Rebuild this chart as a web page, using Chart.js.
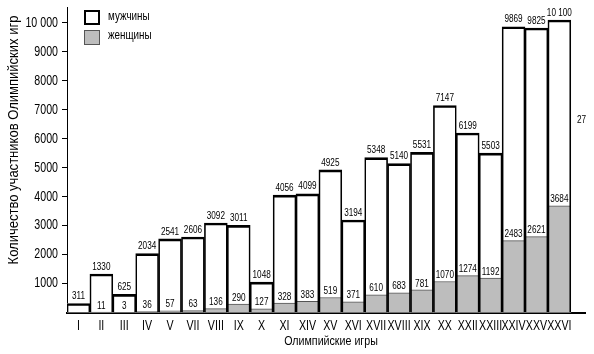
<!DOCTYPE html>
<html>
<head>
<meta charset="utf-8">
<script src="https://cdn.jsdelivr.net/npm/chart.js@4"></script>
<style>
  body { margin: 0; background: #fff; }
</style>
</head>
<body>
<canvas id="myChart" width="594" height="354"></canvas>
<script>
var games = ['I', 'II', 'III', 'IV', 'V', 'VII', 'VIII', 'IX', 'X', 'XI', 'XIV', 'XV', 'XVI', 'XVII', 'XVIII', 'XIX', 'XX', 'XXII', 'XXIII', 'XXIV', 'XXV', 'XXVI'];
var totals = [311, 1330, 625, 2034, 2541, 2606, 3092, 3011, 1048, 4056, 4099, 4925, 3194, 5348, 5140, 5531, 7147, 6199, 5503, 9869, 9825, 10100];
var women = [null, 11, 3, 36, 57, 63, 136, 290, 127, 328, 383, 519, 371, 610, 683, 781, 1070, 1274, 1192, 2483, 2621, 3684];
var yTicks = [1000, 2000, 3000, 4000, 5000, 6000, 7000, 8000, 9000, 10000];

var FAMILY = "'Liberation Sans', Arial, sans-serif";
var GRAY = '#bdbdbd';

// no narrow face installed, so squeeze text horizontally
function text(ctx, s, x, y, size, squeeze, align, base) {
    ctx.save();
    ctx.font = size + 'px ' + FAMILY;
    ctx.textAlign = align || 'center';
    ctx.textBaseline = base || 'middle';
    ctx.translate(x, y);
    ctx.scale(squeeze, 1);
    ctx.fillText(s, 0, 0);
    ctx.restore();
}

function points(arr) {
    return arr.map(function (v, i) { return { x: i, y: v }; });
}

// tick labels, value labels, legend and axis titles
var extras = {
    id: 'extras',
    afterDraw: function (chart) {
        var ctx = chart.ctx;
        var xs = chart.scales.x, ys = chart.scales.y;
        ctx.save();
        ctx.fillStyle = '#000';

        yTicks.forEach(function (v) {
            text(ctx, v === 10000 ? '10 000' : String(v), 58, ys.getPixelForValue(v), 14, 0.76, 'right');
        });
        games.forEach(function (g, i) {
            text(ctx, g, xs.getPixelForValue(i), 326, 14, 0.76);
        });

        var tot = chart.getDatasetMeta(0).data;
        var wom = chart.getDatasetMeta(1).data;
        totals.forEach(function (v, i) {
            text(ctx, v === 10100 ? '10 100' : String(v), tot[i].x, tot[i].y - 2, 10.5, 0.78, 'center', 'bottom');
        });
        women.forEach(function (v, i) {
            if (v === null) return;
            text(ctx, String(v), wom[i].x, wom[i].y - 1, 10.5, 0.78, 'center', 'bottom');
        });
        text(ctx, '27', 577, 120, 10.5, 0.78, 'left');

        // legend
        ctx.lineWidth = 2;
        ctx.strokeStyle = '#000';
        ctx.fillStyle = '#fff';
        ctx.fillRect(85, 11, 14, 13);
        ctx.strokeRect(85, 11, 14, 13);
        ctx.fillStyle = GRAY;
        ctx.fillRect(84, 30, 16, 15);
        ctx.lineWidth = 1;
        ctx.strokeStyle = '#555';
        ctx.strokeRect(84.5, 30.5, 15, 14);
        ctx.fillStyle = '#000';
        text(ctx, 'мужчины', 108, 17, 12, 0.82, 'left');
        text(ctx, 'женщины', 108, 36, 12, 0.82, 'left');

        // axis titles
        text(ctx, 'Олимпийские игры', 331, 341, 13, 0.82);
        ctx.translate(14, 140);
        ctx.rotate(-Math.PI / 2);
        text(ctx, 'Количество участников Олимпийских игр', 0, 0, 14, 0.93);
        ctx.restore();
    }
};

var ctx = document.getElementById('myChart').getContext('2d');
var myChart = new Chart(ctx, {
    type: 'bar',
    data: {
        datasets: [{
            label: 'мужчины',
            data: points(totals),
            backgroundColor: 'rgba(0,0,0,0)',
            borderColor: '#000',
            borderWidth: { top: 2, left: 1, right: 1, bottom: 0 },
            order: 0
        }, {
            label: 'женщины',
            data: points(women),
            backgroundColor: GRAY,
            borderColor: '#555',
            borderWidth: { top: 1, left: 0, right: 0, bottom: 0 },
            order: 1
        }, {
            label: 'fill',
            data: points(totals),
            backgroundColor: '#fff',
            borderWidth: 0,
            order: 2
        }]
    },
    options: {
        responsive: false,
        animation: false,
        layout: { padding: { top: 7, right: 9, left: 0, bottom: 0 } },
        datasets: {
            bar: { grouped: false, barPercentage: 1, categoryPercentage: 1 }
        },
        plugins: {
            legend: { display: false },
            tooltip: { enabled: false }
        },
        scales: {
            x: {
                type: 'linear',
                offset: false,
                min: -0.5,
                max: 22.12,
                grid: { display: false },
                border: { display: true, color: '#000', width: 2 },
                afterBuildTicks: function (scale) {
                    scale.ticks = games.map(function (g, i) { return { value: i }; });
                },
                afterFit: function (scale) { scale.height = 41.5; },
                ticks: { display: false }
            },
            y: {
                min: 0,
                max: 10550,
                grid: { display: true, drawOnChartArea: false, drawTicks: true, tickLength: 5, color: '#000' },
                border: { display: true, color: '#000', width: 1 },
                afterBuildTicks: function (scale) {
                    scale.ticks = yTicks.map(function (v) { return { value: v }; });
                },
                afterFit: function (scale) { scale.width = 67; },
                ticks: { display: false }
            }
        }
    },
    plugins: [extras]
});
</script>
</body>
</html>
